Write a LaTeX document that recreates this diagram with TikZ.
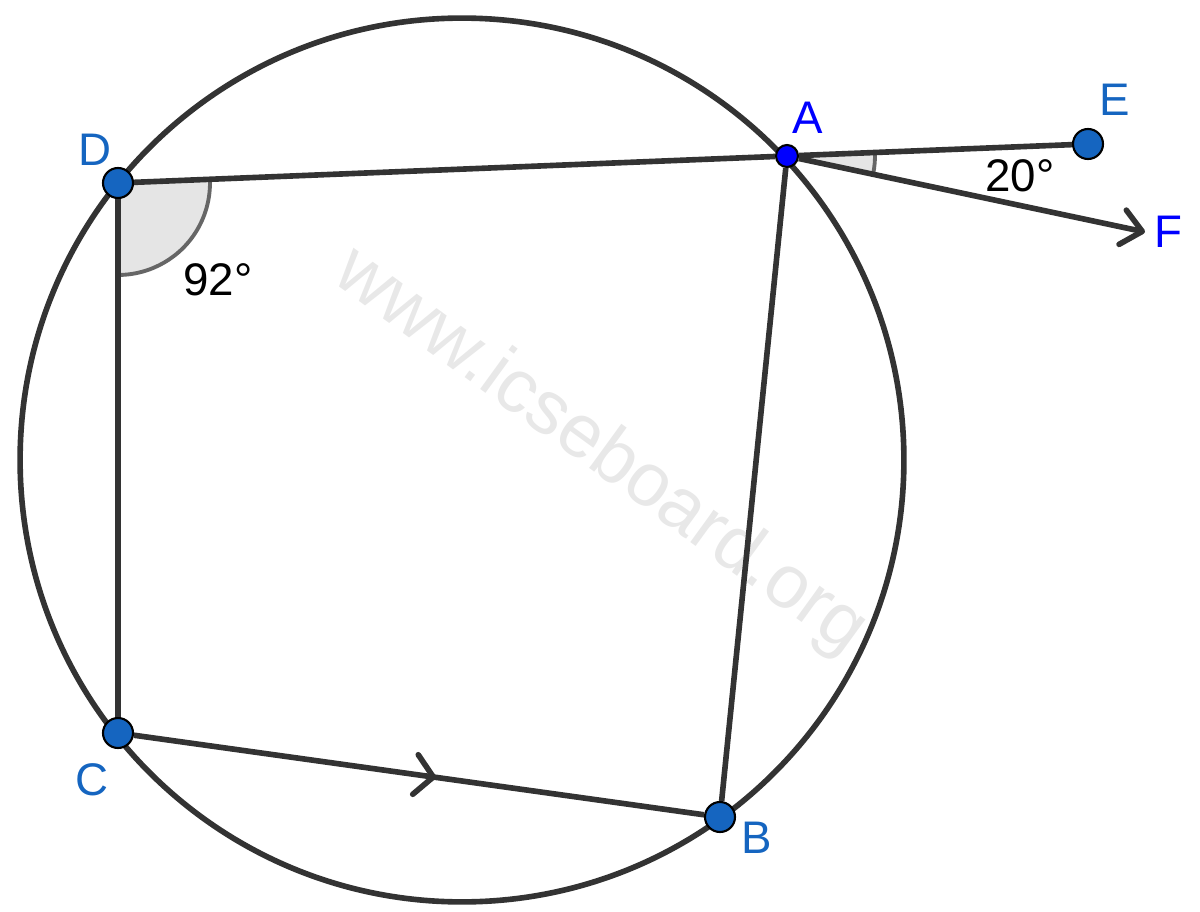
\documentclass[tikz,border=0pt]{standalone}
\usepackage{fontspec}
\setmainfont{Liberation Sans}
\usetikzlibrary{positioning,angles,arrows.meta,decorations.markings}
\definecolor{ink}{HTML}{333333}
\definecolor{ptblue}{HTML}{1565C0}
\definecolor{pureblue}{HTML}{0000FF}
\pgfdeclarelayer{bg}
\pgfsetlayers{bg,main}
\tikzstyle{seg} = [draw=ink, line width=3.2pt]
\tikzstyle{pt} = [circle, draw=black, line width=1.2pt, fill=ptblue, minimum size=0.6cm, inner sep=0pt]
\tikzstyle{lab} = [text=ptblue, font=\fontsize{26}{30}\selectfont, inner sep=0pt]
\tikzstyle{anglemark} = [draw=gray!80!black, fill=gray!20, line width=2.2pt]
\tikzstyle{barb} = [-{Straight Barb[length=0.4cm, width=0.7cm, round]}]

\begin{document}
\begin{tikzpicture}[x=0.02cm, y=-0.02cm]
    \useasboundingbox (0,0) rectangle (1200,912);

    \node (mark) [rotate=-36, text=gray!18, font=\fontsize{43}{50}\selectfont] at (600,452) {www.icseboard.org};

    % points on the circle
    \coordinate (O) at (462,460);
    \node (D) [pt] at (118,183) {};
    \node (A) [pt, fill=pureblue, minimum size=0.44cm] at (787,156) {};
    \node (C) [pt] at (118,733) {};
    \node (B) [pt] at (720,817) {};
    \node (E) [pt] at (1088,144) {};
    \coordinate (F) at (1145,232);

    \begin{pgfonlayer}{bg}
      \draw [ink, line width=3.2pt] (O) circle [radius=8.84cm];
      \pic [anglemark, angle radius=1.84cm] {angle = C--D--A};
      \pic [anglemark, angle radius=1.76cm] {angle = F--A--E};
    \end{pgfonlayer}

    \draw [seg] (D) -- (A);
    \draw [seg] (D) -- (C);
    \draw [seg] (A) -- (B);
    \draw [seg] (A) -- (E);
    \draw [seg, postaction={decorate}, decoration={markings, mark=at position 0.53 with {\arrow[line width=3.2pt]{Straight Barb[length=0.36cm, width=0.8cm, round]}}}] (C) -- (B);
    \draw [seg, barb] (A) -- (F);

    % labels
    \node (labD) [lab, above left=0.66cm and 0.46cm of D.center, anchor=center] {D};
    \node (labA) [lab, text=pureblue, above right=0.76cm and 0.42cm of A.center, anchor=center] {A};
    \node (labE) [lab, above right=0.88cm and 0.54cm of E.center, anchor=center] {E};
    \node (labF) [lab, text=pureblue, right=0.46cm of F, anchor=center] {F};
    \node (labC) [lab, below left=0.94cm and 0.52cm of C.center, anchor=center] {C};
    \node (labB) [lab, below right=0.42cm and 0.74cm of B.center, anchor=center] {B};
    \node (angD) [lab, text=black, below right=1.94cm and 2.0cm of D.center, anchor=center] {92°};
    \node (angA) [lab, text=black, below left=0.64cm and 1.36cm of E.center, anchor=center] {20°};

  \end{tikzpicture}
\end{document}
